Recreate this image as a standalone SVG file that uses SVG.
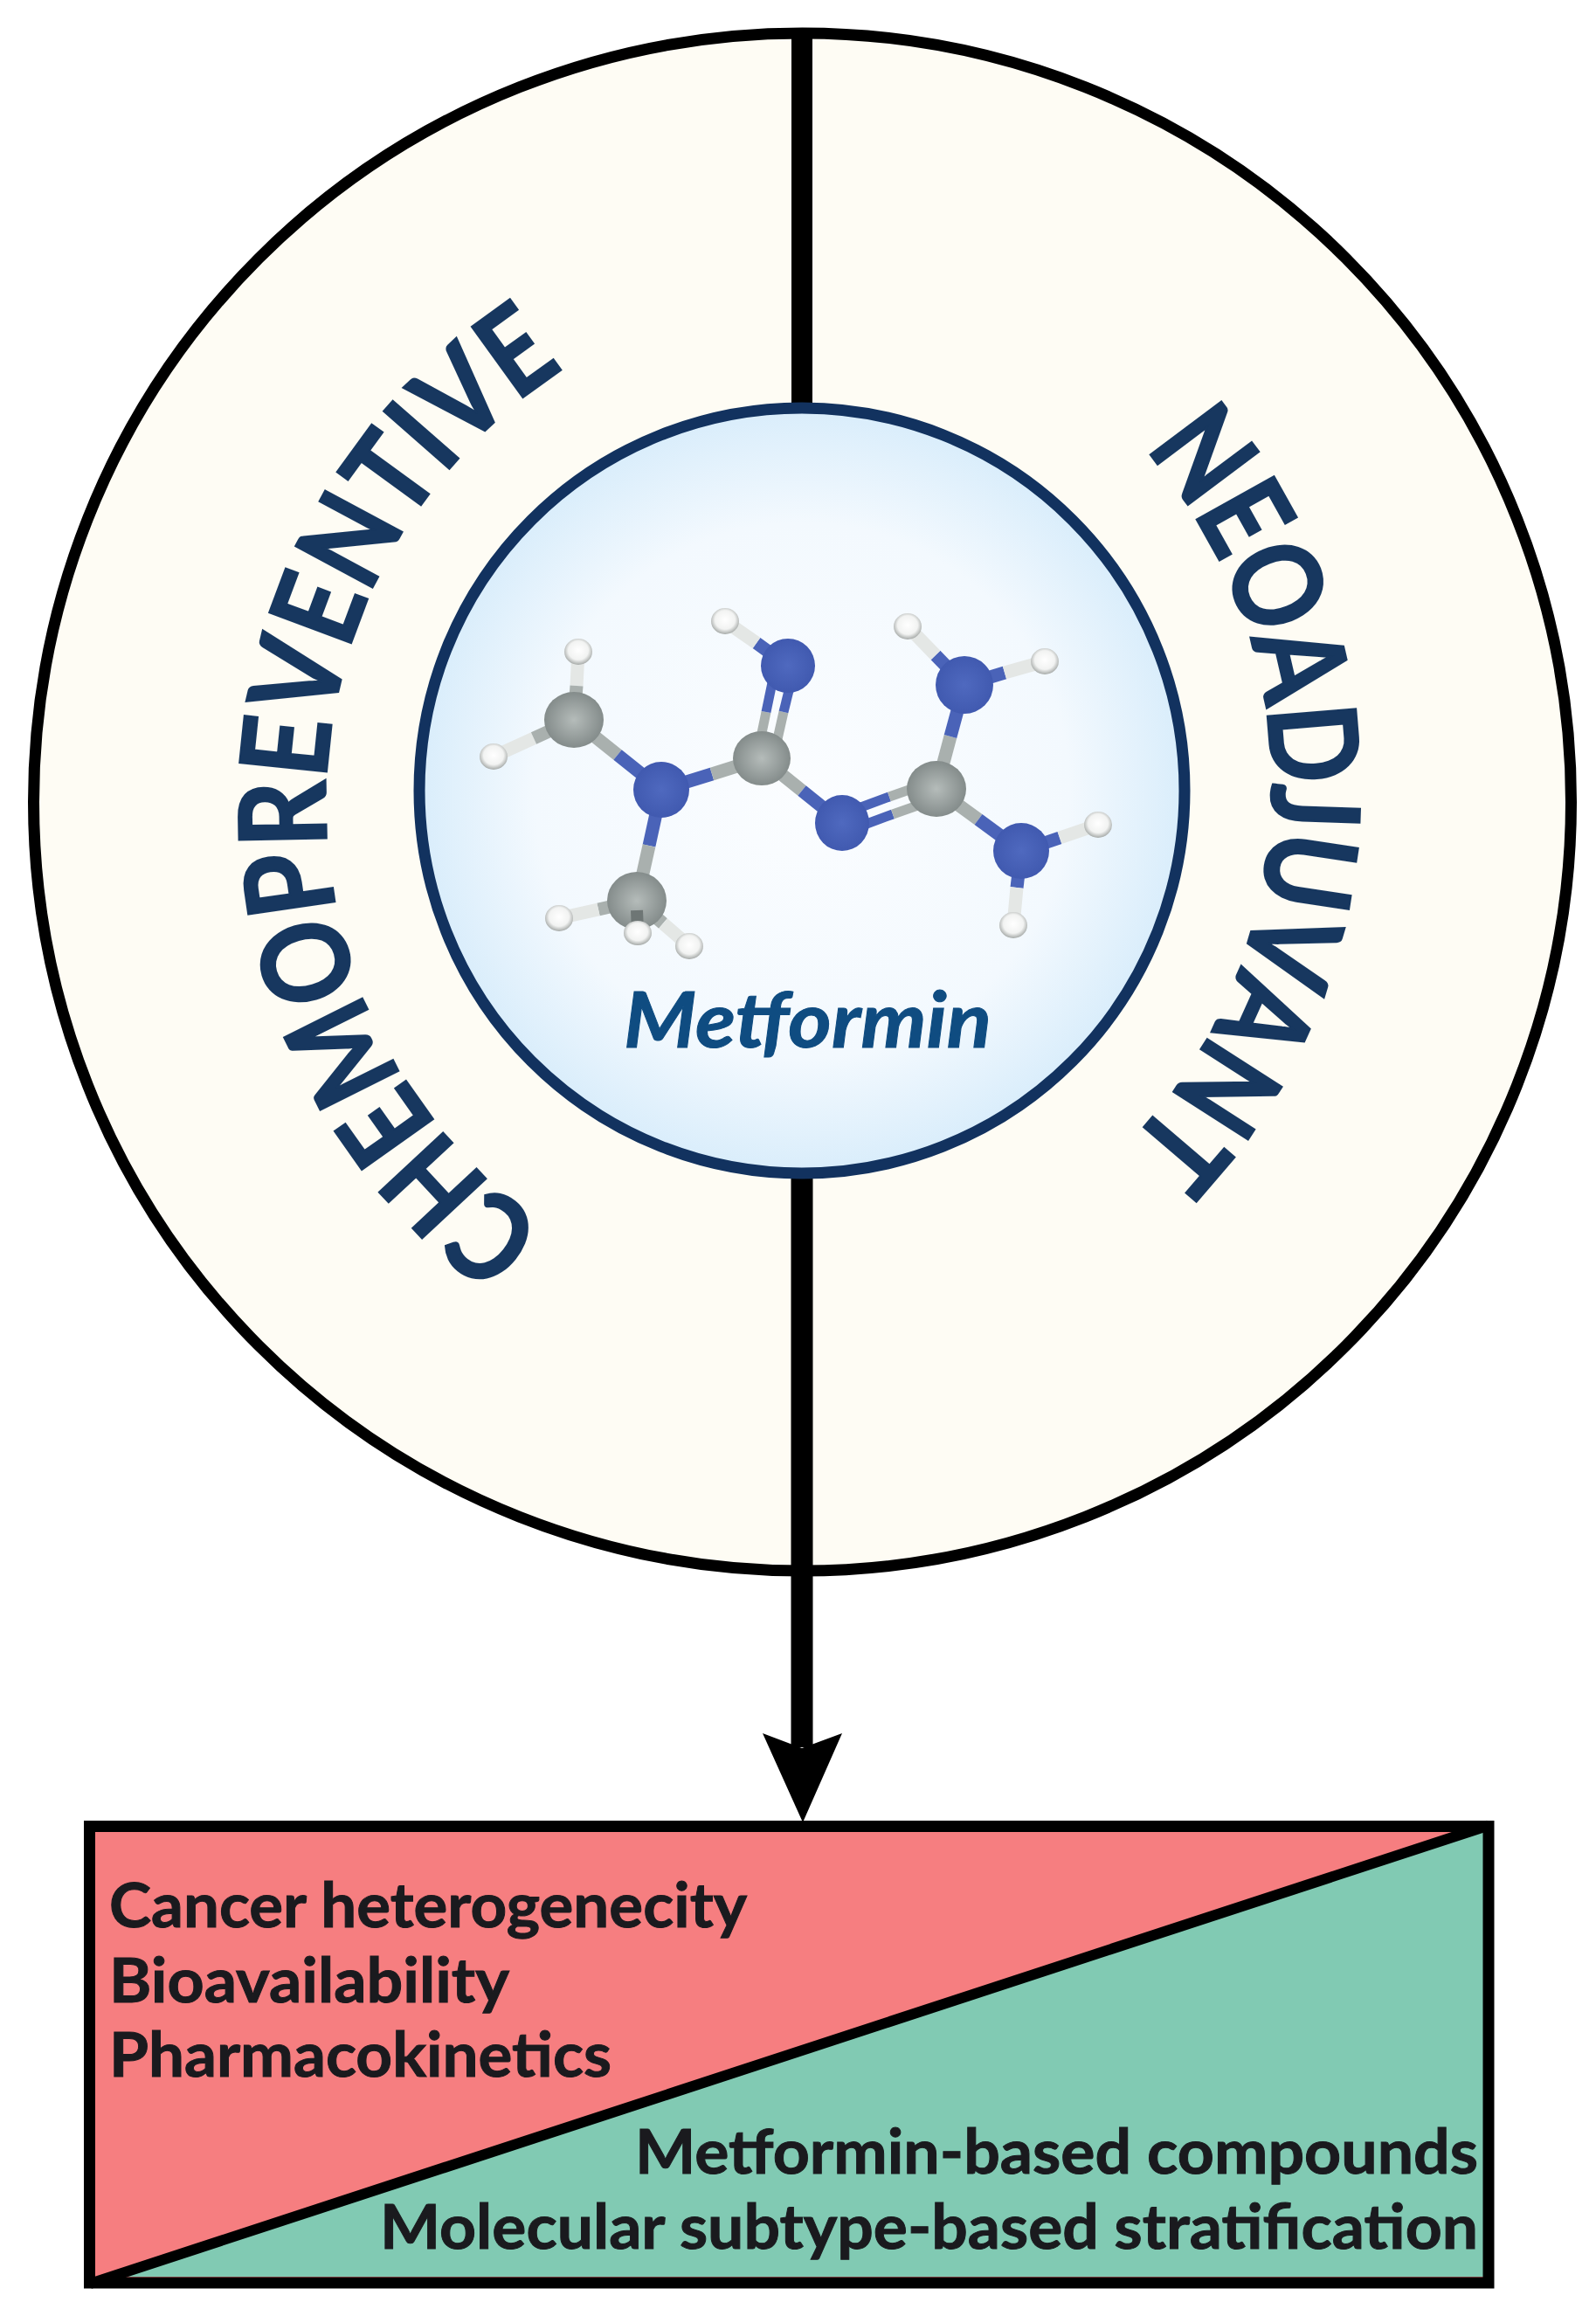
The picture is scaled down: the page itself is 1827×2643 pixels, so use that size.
<svg xmlns="http://www.w3.org/2000/svg" width="1827" height="2643" viewBox="0 0 1827 2643">
<style>
.lato{font-family:Lato,"Liberation Sans",sans-serif}
.arc{font-weight:700;fill:#17375f;stroke:#17375f;stroke-width:2.500}
.list{font-size:71px;font-weight:700;fill:#1a1a1e;stroke:#1a1a1e;stroke-width:1}
.bg{stroke:#a9b0ae;stroke-width:15;fill:none}
.bb{stroke:#4a63b8;stroke-width:15;fill:none}
.bw{stroke:#e4e7e5;stroke-width:15;fill:none}
.dg{stroke:#a9b0ae;stroke-width:11;fill:none}
.db{stroke:#4a63b8;stroke-width:11;fill:none}
.c{fill:url(#gc)}
.n{fill:url(#gn)}
.h{fill:url(#gh)}
</style>
<defs>
<radialGradient id="disc" cx="50%" cy="50%" r="50%"><stop offset="0" stop-color="#fbfdff"/><stop offset="0.7" stop-color="#f3f9fe"/><stop offset="1" stop-color="#d9edfb"/></radialGradient>
<radialGradient id="gc" cx="50%" cy="50%" r="55%"><stop offset="0" stop-color="#b5bcba"/><stop offset="1" stop-color="#7f8786"/></radialGradient>
<radialGradient id="gn" cx="50%" cy="50%" r="55%"><stop offset="0" stop-color="#4f69bf"/><stop offset="1" stop-color="#3f58ae"/></radialGradient>
<radialGradient id="gh" cx="50%" cy="45%" r="55%"><stop offset="0" stop-color="#ffffff"/><stop offset="0.65" stop-color="#f2f3f2"/><stop offset="1" stop-color="#a5a9a7"/></radialGradient>
<path id="arcL" d="M625,1404 A591,591 0 0 1 652,418"/>
<path id="arcR" d="M1310,514 A588,588 0 0 1 1290,1311"/>
</defs>
<rect width="1827" height="2643" fill="#ffffff"/>

<g id="outer-circle"><circle cx="918.500" cy="918" r="880" fill="#fefcf4" stroke="#000" stroke-width="13"/></g>

<g id="connectors">
<line x1="918" y1="38" x2="918" y2="470" stroke="#000" stroke-width="24"/>
<line x1="918" y1="1340" x2="918" y2="2000" stroke="#000" stroke-width="25"/>
<polygon points="919,2086 873,1984 918,2001 964,1984" fill="#000"/>
</g>

<g id="center-disc"><circle cx="918" cy="905" r="438" fill="url(#disc)" stroke="#12325f" stroke-width="13"/></g>

<g id="molecule">
<line class="bw" x1="662" y1="746" x2="660" y2="785"/><line class="bg" x1="660" y1="785" x2="657" y2="824"/>
<line class="bw" x1="565" y1="866" x2="611" y2="845"/><line class="bg" x1="611" y1="845" x2="657" y2="824"/>
<line class="bg" x1="657" y1="824" x2="707" y2="864"/><line class="bb" x1="707" y1="864" x2="757" y2="904"/>
<line class="bb" x1="757" y1="904" x2="815" y2="886"/><line class="bg" x1="815" y1="886" x2="872" y2="868"/>
<line class="bb" x1="757" y1="904" x2="743" y2="968"/><line class="bg" x1="743" y1="968" x2="729" y2="1031"/>
<line class="dg" x1="866" y1="868" x2="877" y2="815"/><line class="db" x1="877" y1="815" x2="888" y2="762"/>
<line class="dg" x1="885" y1="868" x2="897" y2="815"/><line class="db" x1="897" y1="815" x2="910" y2="762"/>
<line class="bb" x1="902" y1="762" x2="866" y2="736"/><line class="bw" x1="866" y1="736" x2="830" y2="711"/>
<line class="bg" x1="872" y1="868" x2="918" y2="905"/><line class="bb" x1="918" y1="905" x2="964" y2="942"/>
<line class="db" x1="964" y1="932" x2="1018" y2="912"/><line class="dg" x1="1018" y1="912" x2="1072" y2="893"/>
<line class="db" x1="968" y1="952" x2="1022" y2="932"/><line class="dg" x1="1022" y1="932" x2="1076" y2="913"/>
<line class="bg" x1="1072" y1="903" x2="1088" y2="843"/><line class="bb" x1="1088" y1="843" x2="1104" y2="784"/>
<line class="bb" x1="1104" y1="784" x2="1071" y2="750"/><line class="bw" x1="1071" y1="750" x2="1039" y2="717"/>
<line class="bb" x1="1104" y1="784" x2="1150" y2="770"/><line class="bw" x1="1150" y1="770" x2="1196" y2="757"/>
<line class="bg" x1="1072" y1="903" x2="1120" y2="938"/><line class="bb" x1="1120" y1="938" x2="1169" y2="974"/>
<line class="bb" x1="1169" y1="974" x2="1213" y2="959"/><line class="bw" x1="1213" y1="959" x2="1257" y2="944"/>
<line class="bb" x1="1169" y1="974" x2="1164" y2="1016"/><line class="bw" x1="1164" y1="1016" x2="1160" y2="1059"/>
<line class="bg" x1="729" y1="1031" x2="685" y2="1041"/><line class="bw" x1="685" y1="1041" x2="640" y2="1051"/>
<line class="bg" x1="729" y1="1031" x2="759" y2="1057"/><line class="bw" x1="759" y1="1057" x2="789" y2="1083"/>
<ellipse class="h" cx="662" cy="746" rx="16" ry="15"/>
<ellipse class="h" cx="565" cy="866" rx="16" ry="15"/>
<ellipse class="h" cx="830" cy="711" rx="16" ry="15"/>
<ellipse class="h" cx="1039" cy="717" rx="16" ry="15"/>
<ellipse class="h" cx="1196" cy="757" rx="16" ry="15"/>
<ellipse class="h" cx="1257" cy="944" rx="16" ry="15"/>
<ellipse class="h" cx="1160" cy="1059" rx="16" ry="15"/>
<ellipse class="h" cx="640" cy="1051" rx="16" ry="15"/>
<ellipse class="h" cx="789" cy="1083" rx="16" ry="15"/>
<ellipse class="c" cx="657" cy="824" rx="34" ry="32"/>
<ellipse class="c" cx="872" cy="868" rx="33" ry="31"/>
<ellipse class="c" cx="1072" cy="903" rx="34" ry="32"/>
<ellipse class="c" cx="729" cy="1031" rx="34" ry="33"/>
<ellipse class="n" cx="757" cy="904" rx="32" ry="32"/>
<ellipse class="n" cx="902" cy="762" rx="31" ry="31"/>
<ellipse class="n" cx="964" cy="942" rx="31" ry="32"/>
<ellipse class="n" cx="1104" cy="784" rx="33" ry="33"/>
<ellipse class="n" cx="1169" cy="974" rx="32" ry="32"/>
<line x1="729" y1="1042" x2="730" y2="1067" stroke="#6e7675" stroke-width="14"/>
<ellipse class="h" cx="730" cy="1068" rx="16" ry="14"/>
</g>

<g id="metformin-label"><text class="lato" x="714" y="1199" font-size="88" font-weight="700" font-style="italic" fill="#0f4c81" stroke="#0f4c81" stroke-width="1" textLength="421" lengthAdjust="spacingAndGlyphs">Metformin</text></g>

<g id="chemopreventive"><text class="lato arc" font-size="138"><textPath href="#arcL" textLength="1160" lengthAdjust="spacingAndGlyphs">CHEMOPREVENTIVE</textPath></text></g>
<g id="neoadjuvant"><text class="lato arc" font-size="140"><textPath href="#arcR" textLength="875" lengthAdjust="spacingAndGlyphs">NEOADJUVANT</textPath></text></g>

<g id="gradient-box">
<rect x="103" y="2090" width="1601" height="523" fill="#f67e80"/>
<polygon points="127,2606 1698,2097 1698,2606" fill="#81cab3"/>
<line x1="103" y1="2614" x2="1704" y2="2089.500" stroke="#000" stroke-width="12"/>
<rect x="102.500" y="2090.500" width="1601.500" height="522.500" fill="none" stroke="#000" stroke-width="13"/>
<text class="lato list" x="125" y="2206" textLength="730" lengthAdjust="spacingAndGlyphs">Cancer heterogenecity</text>
<text class="lato list" x="125" y="2292" textLength="458" lengthAdjust="spacingAndGlyphs">Bioavailability</text>
<text class="lato list" x="125" y="2377" textLength="575" lengthAdjust="spacingAndGlyphs">Pharmacokinetics</text>
<text class="lato list" x="727" y="2488" textLength="965" lengthAdjust="spacingAndGlyphs">Metformin-based compounds</text>
<text class="lato list" x="435" y="2574" textLength="1257" lengthAdjust="spacingAndGlyphs">Molecular subtype-based stratification</text>
</g>
</svg>
